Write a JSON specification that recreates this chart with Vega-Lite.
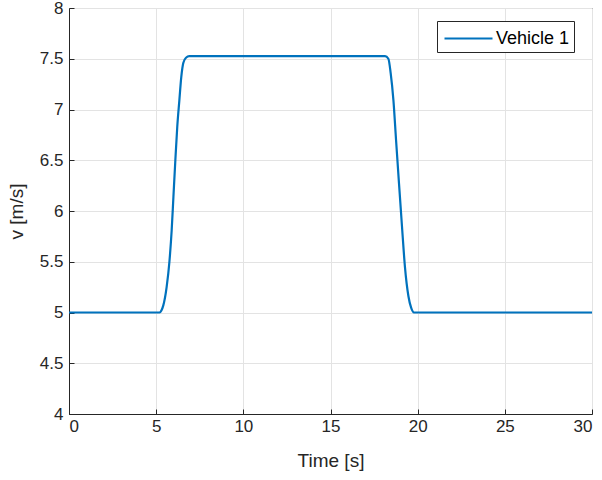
{
  "$schema": "https://vega.github.io/schema/vega-lite/v6.json",
  "width": 523,
  "height": 406,
  "autosize": {"type": "none"},
  "padding": {"left": 69, "top": 8, "right": 10, "bottom": 66},
  "background": "white",
  "config": {
    "font": "Liberation Sans",
    "view": {"stroke": "#262626", "strokeWidth": 1},
    "axis": {
      "labelFont": "Liberation Sans",
      "titleFont": "Liberation Sans",
      "labelFontSize": 17,
      "titleFontSize": 19,
      "labelColor": "#262626",
      "titleColor": "#262626",
      "titleFontWeight": "normal",
      "domainColor": "#262626",
      "tickColor": "#262626",
      "gridColor": "#e3e3e3",
      "gridWidth": 1
    }
  },
  "data": {
    "values": [
      {"t": 0, "v": 5.0, "s": "Vehicle 1"},
      {"t": 5.2, "v": 5.0, "s": "Vehicle 1"},
      {"t": 5.3, "v": 5.02, "s": "Vehicle 1"},
      {"t": 5.41, "v": 5.07, "s": "Vehicle 1"},
      {"t": 5.6, "v": 5.25, "s": "Vehicle 1"},
      {"t": 5.76, "v": 5.5, "s": "Vehicle 1"},
      {"t": 5.89, "v": 5.81, "s": "Vehicle 1"},
      {"t": 5.99, "v": 6.14, "s": "Vehicle 1"},
      {"t": 6.1, "v": 6.5, "s": "Vehicle 1"},
      {"t": 6.21, "v": 6.83, "s": "Vehicle 1"},
      {"t": 6.33, "v": 7.09, "s": "Vehicle 1"},
      {"t": 6.44, "v": 7.32, "s": "Vehicle 1"},
      {"t": 6.56, "v": 7.46, "s": "Vehicle 1"},
      {"t": 6.71, "v": 7.51, "s": "Vehicle 1"},
      {"t": 6.9, "v": 7.525, "s": "Vehicle 1"},
      {"t": 18.13, "v": 7.525, "s": "Vehicle 1"},
      {"t": 18.32, "v": 7.5, "s": "Vehicle 1"},
      {"t": 18.45, "v": 7.36, "s": "Vehicle 1"},
      {"t": 18.61, "v": 7.09, "s": "Vehicle 1"},
      {"t": 18.76, "v": 6.7, "s": "Vehicle 1"},
      {"t": 18.93, "v": 6.27, "s": "Vehicle 1"},
      {"t": 19.1, "v": 5.85, "s": "Vehicle 1"},
      {"t": 19.27, "v": 5.45, "s": "Vehicle 1"},
      {"t": 19.47, "v": 5.16, "s": "Vehicle 1"},
      {"t": 19.62, "v": 5.05, "s": "Vehicle 1"},
      {"t": 19.79, "v": 5.0, "s": "Vehicle 1"},
      {"t": 30, "v": 5.0, "s": "Vehicle 1"}
    ]
  },
  "mark": {"type": "line", "strokeWidth": 2.2, "interpolate": "monotone"},
  "encoding": {
    "x": {
      "field": "t", "type": "quantitative",
      "scale": {"domain": [0, 30], "nice": false, "zero": false},
      "axis": {"title": "Time [s]", "values": [0, 5, 10, 15, 20, 25, 30], "format": "~g", "tickSize": -5, "labelPadding": 9, "titlePadding": 17}
    },
    "y": {
      "field": "v", "type": "quantitative",
      "scale": {"domain": [4, 8], "nice": false, "zero": false},
      "axis": {"title": "v [m/s]", "values": [4, 4.5, 5, 5.5, 6, 6.5, 7, 7.5, 8], "format": "~g", "tickSize": -5, "labelPadding": 11, "titlePadding": 13}
    },
    "color": {
      "field": "s", "type": "nominal",
      "scale": {"range": ["#0072BD"]},
      "legend": {
        "title": null,
        "orient": "none",
        "legendX": 368,
        "legendY": 13,
        "symbolType": "M-2,0H2",
        "symbolSize": 576,
        "symbolOffset": 14,
        "symbolStrokeWidth": 2.2,
        "labelOffset": 14,
        "labelFontSize": 18,
        "labelFont": "Liberation Sans",
        "labelColor": "#000000",
        "strokeColor": "#262626",
        "fillColor": "white",
        "padding": 4
      }
    }
  }
}
